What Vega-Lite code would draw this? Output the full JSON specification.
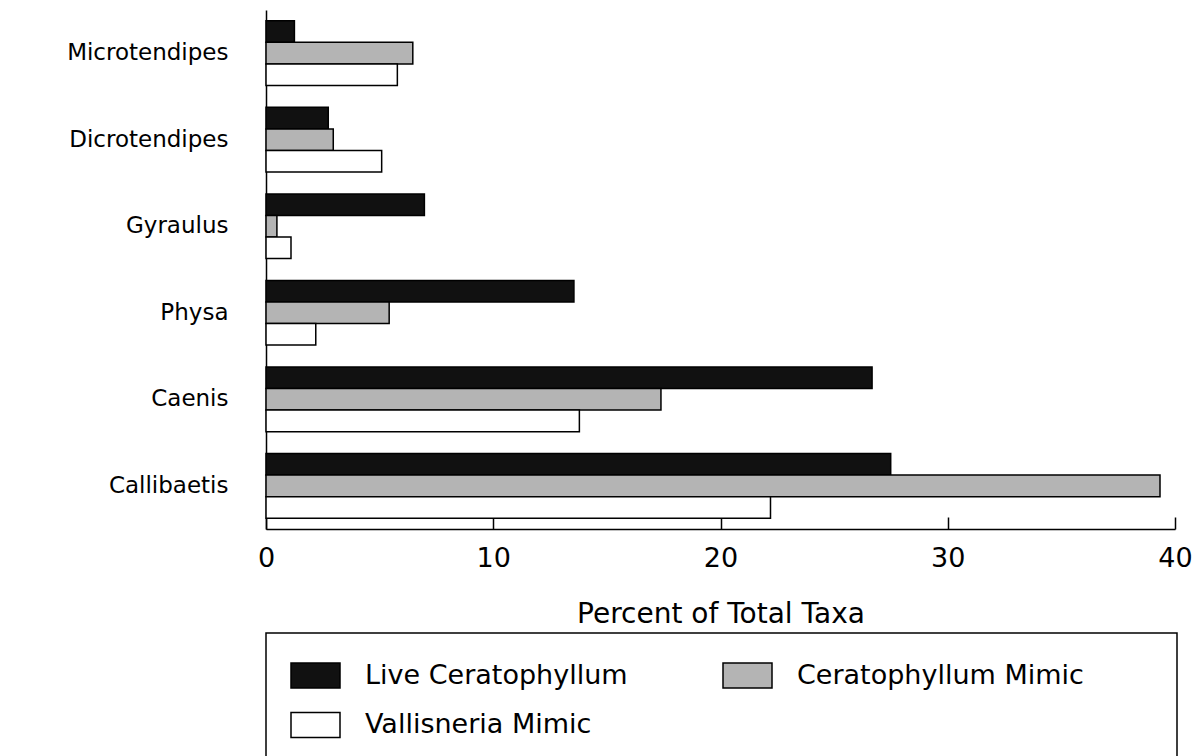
{
  "$schema": "https://vega.github.io/schema/vega-lite/v6.json",
  "width": 909,
  "height": 519,
  "autosize": {"type": "none"},
  "padding": {"left": 266, "top": 10, "right": 25, "bottom": 227},
  "background": "white",
  "data": {
    "values": [
      {"taxon": "Microtendipes", "treatment": "Live Ceratophyllum", "percent": 1.25},
      {"taxon": "Microtendipes", "treatment": "Ceratophyllum Mimic", "percent": 6.46},
      {"taxon": "Microtendipes", "treatment": "Vallisneria Mimic", "percent": 5.78},
      {"taxon": "Dicrotendipes", "treatment": "Live Ceratophyllum", "percent": 2.74},
      {"taxon": "Dicrotendipes", "treatment": "Ceratophyllum Mimic", "percent": 2.96},
      {"taxon": "Dicrotendipes", "treatment": "Vallisneria Mimic", "percent": 5.09},
      {"taxon": "Gyraulus", "treatment": "Live Ceratophyllum", "percent": 6.97},
      {"taxon": "Gyraulus", "treatment": "Ceratophyllum Mimic", "percent": 0.48},
      {"taxon": "Gyraulus", "treatment": "Vallisneria Mimic", "percent": 1.1},
      {"taxon": "Physa", "treatment": "Live Ceratophyllum", "percent": 13.55},
      {"taxon": "Physa", "treatment": "Ceratophyllum Mimic", "percent": 5.42},
      {"taxon": "Physa", "treatment": "Vallisneria Mimic", "percent": 2.19},
      {"taxon": "Caenis", "treatment": "Live Ceratophyllum", "percent": 26.67},
      {"taxon": "Caenis", "treatment": "Ceratophyllum Mimic", "percent": 17.38},
      {"taxon": "Caenis", "treatment": "Vallisneria Mimic", "percent": 13.79},
      {"taxon": "Callibaetis", "treatment": "Live Ceratophyllum", "percent": 27.49},
      {"taxon": "Callibaetis", "treatment": "Ceratophyllum Mimic", "percent": 39.34},
      {"taxon": "Callibaetis", "treatment": "Vallisneria Mimic", "percent": 22.2}
    ]
  },
  "mark": {"type": "bar", "stroke": "black", "strokeWidth": 1.5},
  "encoding": {
    "y": {
      "field": "taxon",
      "type": "nominal",
      "sort": ["Microtendipes", "Dicrotendipes", "Gyraulus", "Physa", "Caenis", "Callibaetis"],
      "scale": {"paddingInner": 0.253, "paddingOuter": 0.125},
      "axis": {
        "title": null,
        "ticks": false,
        "domain": true,
        "domainColor": "black",
        "domainWidth": 1.5,
        "labelFont": "DejaVu Sans",
        "labelFontSize": 23,
        "labelColor": "black",
        "labelPadding": 38,
        "labelLimit": 400
      }
    },
    "yOffset": {
      "field": "treatment",
      "type": "nominal",
      "sort": ["Live Ceratophyllum", "Ceratophyllum Mimic", "Vallisneria Mimic"],
      "scale": {"paddingInner": 0, "paddingOuter": 0}
    },
    "x": {
      "field": "percent",
      "type": "quantitative",
      "scale": {"domain": [0, 40], "nice": false},
      "axis": {
        "title": "Percent of Total Taxa",
        "values": [0, 10, 20, 30, 40],
        "grid": false,
        "domainColor": "black",
        "domainWidth": 1.5,
        "tickColor": "black",
        "tickWidth": 1.5,
        "tickSize": -12,
        "labelPadding": 28,
        "labelFlush": false,
        "labelFont": "DejaVu Sans",
        "labelFontSize": 27,
        "labelColor": "black",
        "titleFont": "DejaVu Sans",
        "titleFontSize": 28,
        "titleFontWeight": "normal",
        "titleColor": "black",
        "titlePadding": 29
      }
    },
    "color": {
      "field": "treatment",
      "type": "nominal",
      "sort": ["Live Ceratophyllum", "Ceratophyllum Mimic", "Vallisneria Mimic"],
      "scale": {
        "domain": ["Live Ceratophyllum", "Ceratophyllum Mimic", "Vallisneria Mimic"],
        "range": ["#111111", "#b4b4b4", "#ffffff"]
      },
      "legend": {
        "title": " ",
        "titleOrient": "right",
        "titlePadding": 76,
        "titleFontSize": 10,
        "orient": "none",
        "direction": "horizontal",
        "legendX": 0,
        "legendY": 623,
        "columns": 2,
        "columnPadding": 87,
        "rowPadding": 8.5,
        "padding": 17,
        "strokeColor": "black",
        "fillColor": "white",
        "symbolType": "M-1,-0.51H1V0.51H-1Z",
        "symbolSize": 2401,
        "symbolStrokeColor": "black",
        "symbolStrokeWidth": 1.5,
        "symbolOpacity": 1,
        "symbolOffset": 7,
        "labelOffset": 24,
        "labelFont": "DejaVu Sans",
        "labelFontSize": 27,
        "labelColor": "black",
        "labelLimit": 500,
        "encode": {
          "legend": {"update": {"strokeWidth": {"value": 1.5}}}
        }
      }
    }
  },
  "config": {"view": {"stroke": null}}
}
